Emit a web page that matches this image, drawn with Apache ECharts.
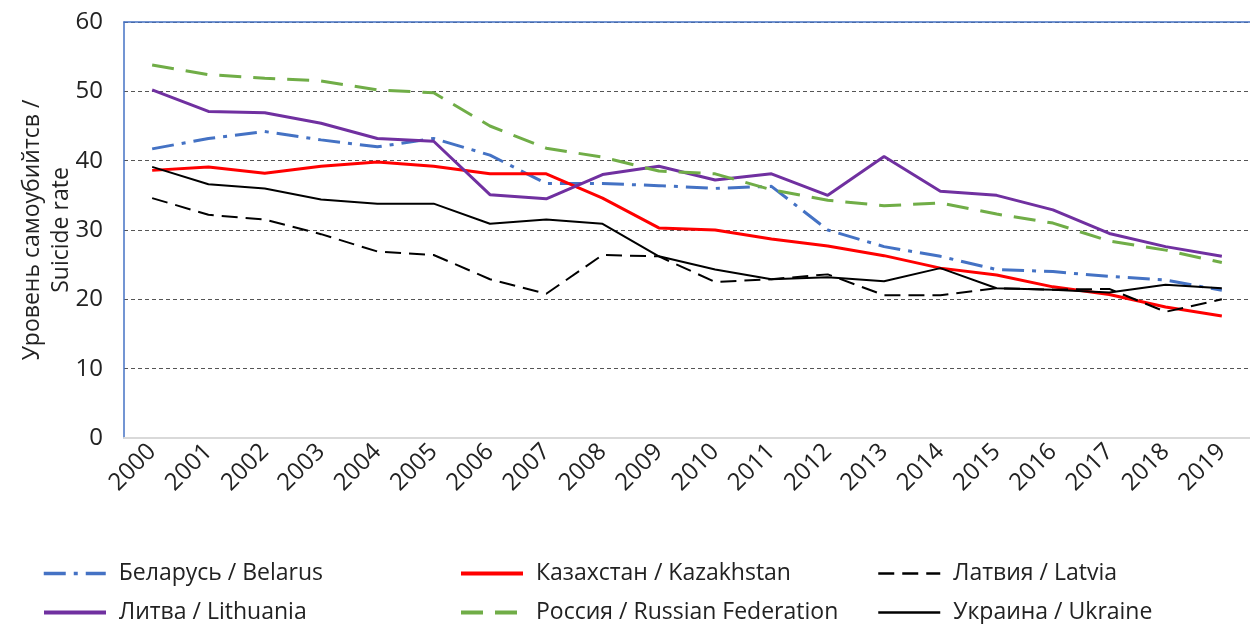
<!DOCTYPE html>
<html>
<head>
<meta charset="utf-8">
<script src="https://cdn.jsdelivr.net/npm/echarts@6/dist/echarts.min.js"></script>
<style>
  html, body { margin: 0; padding: 0; background: #fff; }
  #chart { width: 1250px; height: 624px; }
</style>
</head>
<body>
<div id="chart"></div>
<script>
// годы
var years = ['2000', '2001', '2002', '2003', '2004', '2005', '2006', '2007', '2008', '2009',
  '2010', '2011', '2012', '2013', '2014', '2015', '2016', '2017', '2018', '2019'];

var belarus = [41.7, 43.2, 44.2, 43.0, 42.0, 43.2, 40.8, 36.7, 36.7, 36.4, 36.0, 36.3, 30.0, 27.6, 26.2, 24.3, 24.0, 23.3, 22.8, 21.3];
var kazakhstan = [38.6, 39.1, 38.2, 39.2, 39.8, 39.2, 38.1, 38.1, 34.6, 30.3, 30.0, 28.7, 27.7, 26.3, 24.5, 23.5, 21.8, 20.7, 18.9, 17.6];
var latvia = [34.6, 32.2, 31.5, 29.4, 26.9, 26.4, 22.9, 20.8, 26.4, 26.2, 22.5, 22.9, 23.6, 20.6, 20.6, 21.6, 21.4, 21.5, 18.2, 20.0];
var lithuania = [50.2, 47.1, 46.9, 45.4, 43.2, 42.8, 35.1, 34.5, 38.0, 39.2, 37.2, 38.1, 35.0, 40.6, 35.6, 35.0, 32.9, 29.5, 27.6, 26.2];
var russia = [53.8, 52.4, 51.9, 51.5, 50.2, 49.8, 45.0, 41.8, 40.5, 38.5, 38.1, 35.8, 34.3, 33.5, 33.9, 32.3, 31.0, 28.4, 27.1, 25.3];
var ukraine = [39.1, 36.6, 36.0, 34.4, 33.8, 33.8, 30.9, 31.5, 30.9, 26.2, 24.3, 22.9, 23.2, 22.6, 24.5, 21.6, 21.4, 21.0, 22.1, 21.6];

var names = ['Беларусь / Belarus', 'Казахстан / Kazakhstan', 'Латвия / Latvia',
  'Литва / Lithuania', 'Россия / Russian Federation', 'Украина / Ukraine'];

var font = 'Open Sans';

function mkLine(name, data, color, width, type) {
  return {
    name: name,
    type: 'line',
    data: data,
    symbol: 'none',
    lineStyle: { color: color, width: width, type: type },
    itemStyle: { color: color },
    z: 3
  };
}

// одна легенда на каждый ряд, чтобы разложить сеткой 3x2
function mkLegend(left, top, item, w) {
  return {
    left: left,
    top: top,
    orient: 'horizontal',
    itemWidth: 62,
    itemHeight: 24,
    data: [item],
    itemStyle: { opacity: 0 },
    lineStyle: { width: w },
    textStyle: { fontFamily: font, fontSize: 23, color: '#222', padding: [0, 0, 0, 8] }
  };
}

var chart = echarts.init(document.getElementById('chart'), null, { renderer: 'canvas' });

var option = {
  backgroundColor: '#fff',
  animation: false,
  grid: { left: 124, right: 0, top: 22, bottom: 186 },
  legend: [
    mkLegend(37, 557, names[0], 3.5),
    mkLegend(454, 557, names[1], 4),
    mkLegend(872, 557, names[2], 2.5),
    mkLegend(37, 596, names[3], 4),
    mkLegend(454, 596, names[4], 4),
    mkLegend(872, 596, names[5], 2.5)
  ],
  xAxis: [{
    type: 'category',
    data: years,
    boundaryGap: true,
    axisLine: { show: true, lineStyle: { color: '#d9d9d9', width: 2 } },
    axisTick: { show: false },
    axisLabel: { rotate: 45, fontFamily: font, fontSize: 24, color: '#222', margin: 10 }
  }, {
    // верхняя рамка
    type: 'category',
    position: 'top',
    data: years,
    axisLine: { show: true, lineStyle: { color: '#4472c4', width: 1.5 } },
    axisTick: { show: false },
    axisLabel: { show: false }
  }],
  yAxis: {
    type: 'value',
    min: 0,
    max: 60,
    interval: 10,
    name: 'Уровень самоубийтсв /\nSuicide rate',
    nameLocation: 'middle',
    nameGap: 48,
    nameMoveOverlap: false,
    nameTextStyle: { fontFamily: font, fontSize: 23, color: '#222', lineHeight: 29 },
    axisLine: { show: true, lineStyle: { color: '#4472c4', width: 1.5 } },
    axisTick: { show: false },
    axisLabel: { fontFamily: font, fontSize: 24, color: '#222', margin: 21 },
    splitLine: { show: true, lineStyle: { color: '#555', width: 1, type: [4, 3] } }
  },
  series: [
    mkLine(names[0], belarus, '#4472c4', 3, [22, 8, 4, 8]),
    mkLine(names[1], kazakhstan, '#ff0000', 3, 'solid'),
    mkLine(names[2], latvia, '#000000', 2, [16, 8]),
    mkLine(names[3], lithuania, '#7030a0', 3, 'solid'),
    mkLine(names[4], russia, '#70ad47', 3, [22, 12]),
    mkLine(names[5], ukraine, '#000000', 2, 'solid')
  ]
};

chart.setOption(option);
</script>
</body>
</html>
